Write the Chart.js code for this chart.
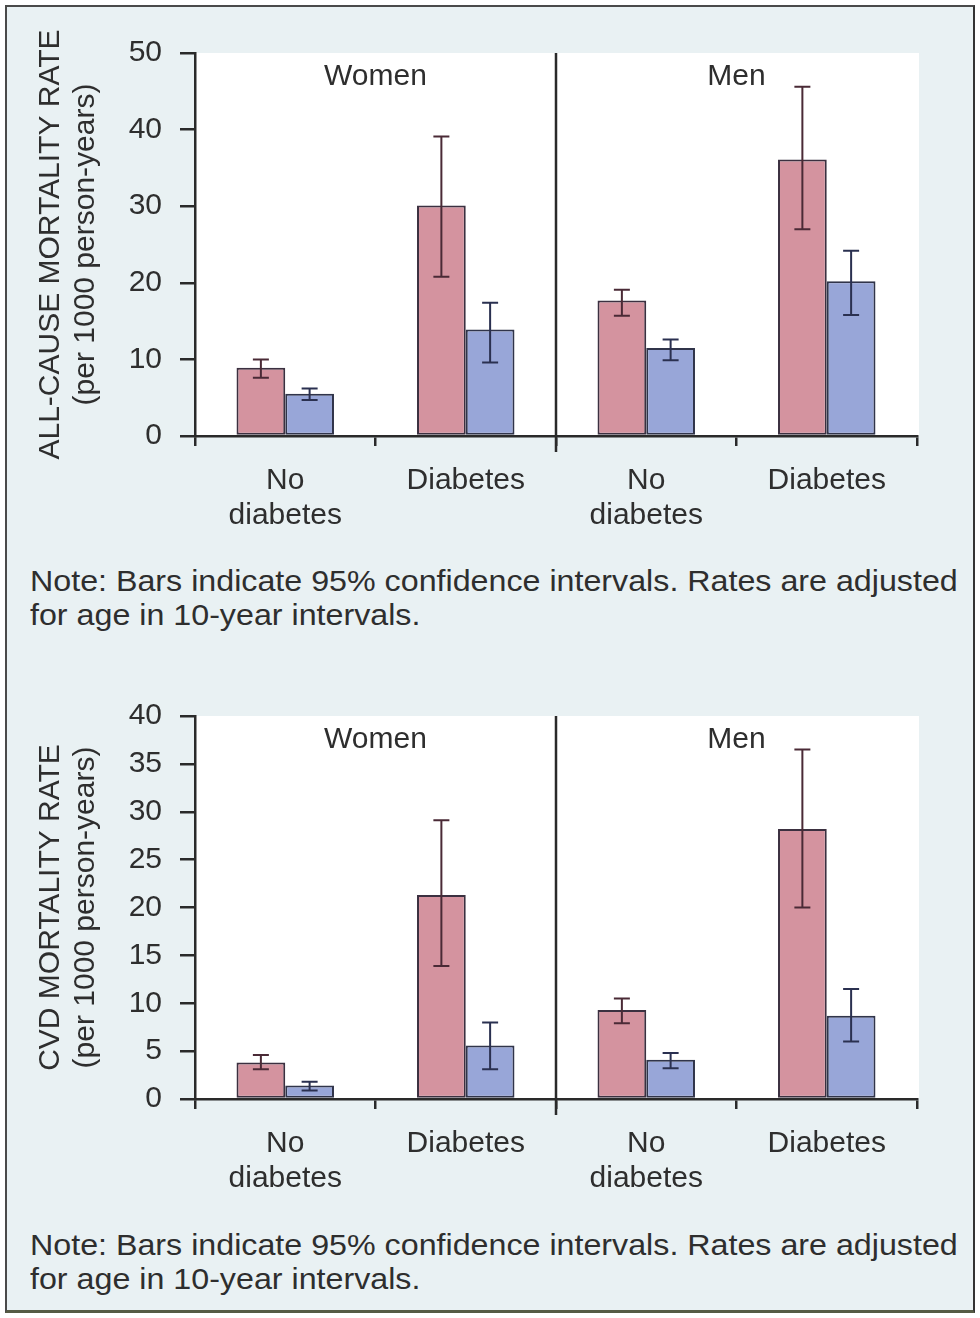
<!DOCTYPE html>
<html>
<head>
<meta charset="utf-8">
<script src="https://cdn.jsdelivr.net/npm/chart.js@4.4.1/dist/chart.umd.min.js"></script>
<style>
  html, body { margin: 0; padding: 0; background: #ffffff; }
  body { width: 980px; height: 1318px; position: relative; overflow: hidden; }
  #frame {
    position: absolute; left: 5px; top: 5px; width: 966px; height: 1303px;
    background: #e9f1f3; border: 2px solid #4a4a4a; border-right-color: #333333; border-bottom: 3px solid #555b45;
  }
  canvas { position: absolute; left: 0; }
  #c1 { top: 0; }
  #c2 { top: 655px; }
  .note {
    position: absolute; left: 30px; margin: 0;
    font-family: "Liberation Sans", Arial, sans-serif; font-size: 30px; line-height: 34px;
    color: #2e2e2e; white-space: nowrap;
    transform: scaleX(1.074); transform-origin: 0 0;
  }
  #n1 { top: 564px; }
  #n2 { top: 1228px; }
</style>
</head>
<body>
<div id="frame"></div>
<canvas id="c1" width="980" height="545"></canvas>
<p class="note" id="n1">Note: Bars indicate 95% confidence intervals. Rates are adjusted<br>for age in 10-year intervals.</p>
<canvas id="c2" width="980" height="545"></canvas>
<p class="note" id="n2">Note: Bars indicate 95% confidence intervals. Rates are adjusted<br>for age in 10-year intervals.</p>

<script>
// Categories along the x axis and the sex panels they fall in
const categories = [['No', 'diabetes'], 'Diabetes', ['No', 'diabetes'], 'Diabetes'];
const panels = ['Women', 'Men'];

// All-cause mortality (per 1000 person-years) with 95% CI
const allCauseA   = [8.9, 30.1, 17.7, 36.1];
const allCauseALo = [7.6, 20.8, 15.7, 27.0];
const allCauseAHi = [10.0, 39.1, 19.1, 45.6];
const allCauseB   = [5.5, 13.9, 11.5, 20.2];
const allCauseBLo = [4.7, 9.6, 9.9, 15.8];
const allCauseBHi = [6.2, 17.4, 12.6, 24.2];

// CVD mortality (per 1000 person-years) with 95% CI
const cvdA   = [3.8, 21.3, 9.3, 28.2];
const cvdALo = [3.1, 13.9, 7.9, 20.0];
const cvdAHi = [4.6, 29.1, 10.5, 36.5];
const cvdB   = [1.4, 5.6, 4.1, 8.7];
const cvdBLo = [0.9, 3.1, 3.2, 6.0];
const cvdBHi = [1.8, 8.0, 4.8, 11.5];

// Axis tick settings
const allCauseTicks = { max: 50, step: 10 };
const cvdTicks = { max: 40, step: 5 };

const FONT = '"Liberation Sans", Arial, sans-serif';
const INK = '#2a2a2a';
const TEXT = '#2e2e2e';
const PINK = '#d4939f';
const BLUE = '#98a6d8';

// White plotting field, panel divider, panel names and CI whiskers
const decorations = {
  id: 'decorations',
  beforeDraw(chart) {
    const a = chart.chartArea, ctx = chart.ctx;
    ctx.save();
    ctx.fillStyle = '#ffffff';
    ctx.fillRect(a.left, a.top, a.right - a.left + 2, a.bottom - a.top);
    ctx.restore();
  },
  afterDatasetsDraw(chart) {
    const ctx = chart.ctx, a = chart.chartArea;
    const xs = chart.scales.x, ys = chart.scales.y;
    const ci = chart.options.plugins.decorations.ci;
    ctx.save();
    // whiskers
    ctx.lineWidth = 2;
    chart.data.datasets.forEach((ds, i) => {
      const meta = chart.getDatasetMeta(i);
      ctx.strokeStyle = ci[i].color;
      meta.data.forEach((bar, j) => {
        const x = bar.x;
        const yLo = ys.getPixelForValue(ci[i].lo[j]);
        const yHi = ys.getPixelForValue(ci[i].hi[j]);
        ctx.beginPath();
        ctx.moveTo(x, yLo); ctx.lineTo(x, yHi);
        ctx.moveTo(x - 8, yLo); ctx.lineTo(x + 8, yLo);
        ctx.moveTo(x - 8, yHi); ctx.lineTo(x + 8, yHi);
        ctx.stroke();
      });
    });
    // panel divider
    const xm = xs.getPixelForValue(1.5);
    ctx.strokeStyle = INK;
    ctx.lineWidth = 2.5;
    ctx.beginPath();
    ctx.moveTo(xm, a.top);
    ctx.lineTo(xm, a.bottom + 16);
    ctx.stroke();
    // panel names
    ctx.fillStyle = TEXT;
    ctx.font = '30px ' + FONT;
    ctx.textAlign = 'center';
    ctx.textBaseline = 'middle';
    panels.forEach((p, k) => {
      ctx.fillText(p, xs.getPixelForValue(k * 2 + 0.5), a.top + 24);
    });
    ctx.restore();
  }
};

function makeChart(id, cfg) {
  return new Chart(document.getElementById(id), {
    type: 'bar',
    data: {
      labels: categories,
      datasets: [
        { label: 'Group A', data: cfg.a, backgroundColor: PINK, borderColor: '#3b3040', borderWidth: 2, borderSkipped: false },
        { label: 'Group B', data: cfg.b, backgroundColor: BLUE, borderColor: '#30344a', borderWidth: 2, borderSkipped: false }
      ]
    },
    plugins: [decorations],
    options: {
      responsive: false,
      devicePixelRatio: 1,
      animation: false,
      layout: { padding: { top: cfg.top, right: 63, left: 0, bottom: 0 } },
      datasets: { bar: { categoryPercentage: 0.54, barPercentage: 1.0 } },
      plugins: {
        legend: { display: false },
        tooltip: { enabled: false },
        decorations: {
          ci: [
            { lo: cfg.aLo, hi: cfg.aHi, color: '#4a2a36' },
            { lo: cfg.bLo, hi: cfg.bHi, color: '#2a3050' }
          ]
        }
      },
      scales: {
        x: {
          afterFit(s) { s.height = cfg.xHeight; },
          grid: { offset: true, drawOnChartArea: false, drawTicks: true, tickLength: 10, color: INK, lineWidth: 2.5 },
          border: { display: true, color: INK, width: 2.5 },
          ticks: { color: TEXT, padding: 17, maxRotation: 0, autoSkip: false,
                   font: { family: FONT, size: 30, lineHeight: 1.1667 } }
        },
        y: {
          min: 0, max: cfg.ticks.max,
          afterFit(s) { s.width = 195; },
          grid: { drawOnChartArea: false, drawTicks: true, tickLength: 15, color: INK, lineWidth: 2.5 },
          border: { display: true, color: INK, width: 2.5 },
          ticks: { stepSize: cfg.ticks.step, color: TEXT, padding: 18,
                   font: { family: FONT, size: 30 } },
          title: { display: true, text: cfg.title, color: TEXT,
                   padding: { top: 33, bottom: 0 },
                   font: { family: FONT, size: 30, lineHeight: 1.1667 } }
        }
      }
    }
  });
}

makeChart('c1', {
  a: allCauseA, aLo: allCauseALo, aHi: allCauseAHi,
  b: allCauseB, bLo: allCauseBLo, bHi: allCauseBHi,
  ticks: allCauseTicks, top: 53, xHeight: 109,
  title: ['ALL-CAUSE MORTALITY RATE', '(per 1000 person-years)']
});

makeChart('c2', {
  a: cvdA, aLo: cvdALo, aHi: cvdAHi,
  b: cvdB, bLo: cvdBLo, bHi: cvdBHi,
  ticks: cvdTicks, top: 61, xHeight: 101,
  title: ['CVD MORTALITY RATE', '(per 1000 person-years)']
});
</script>
</body>
</html>
